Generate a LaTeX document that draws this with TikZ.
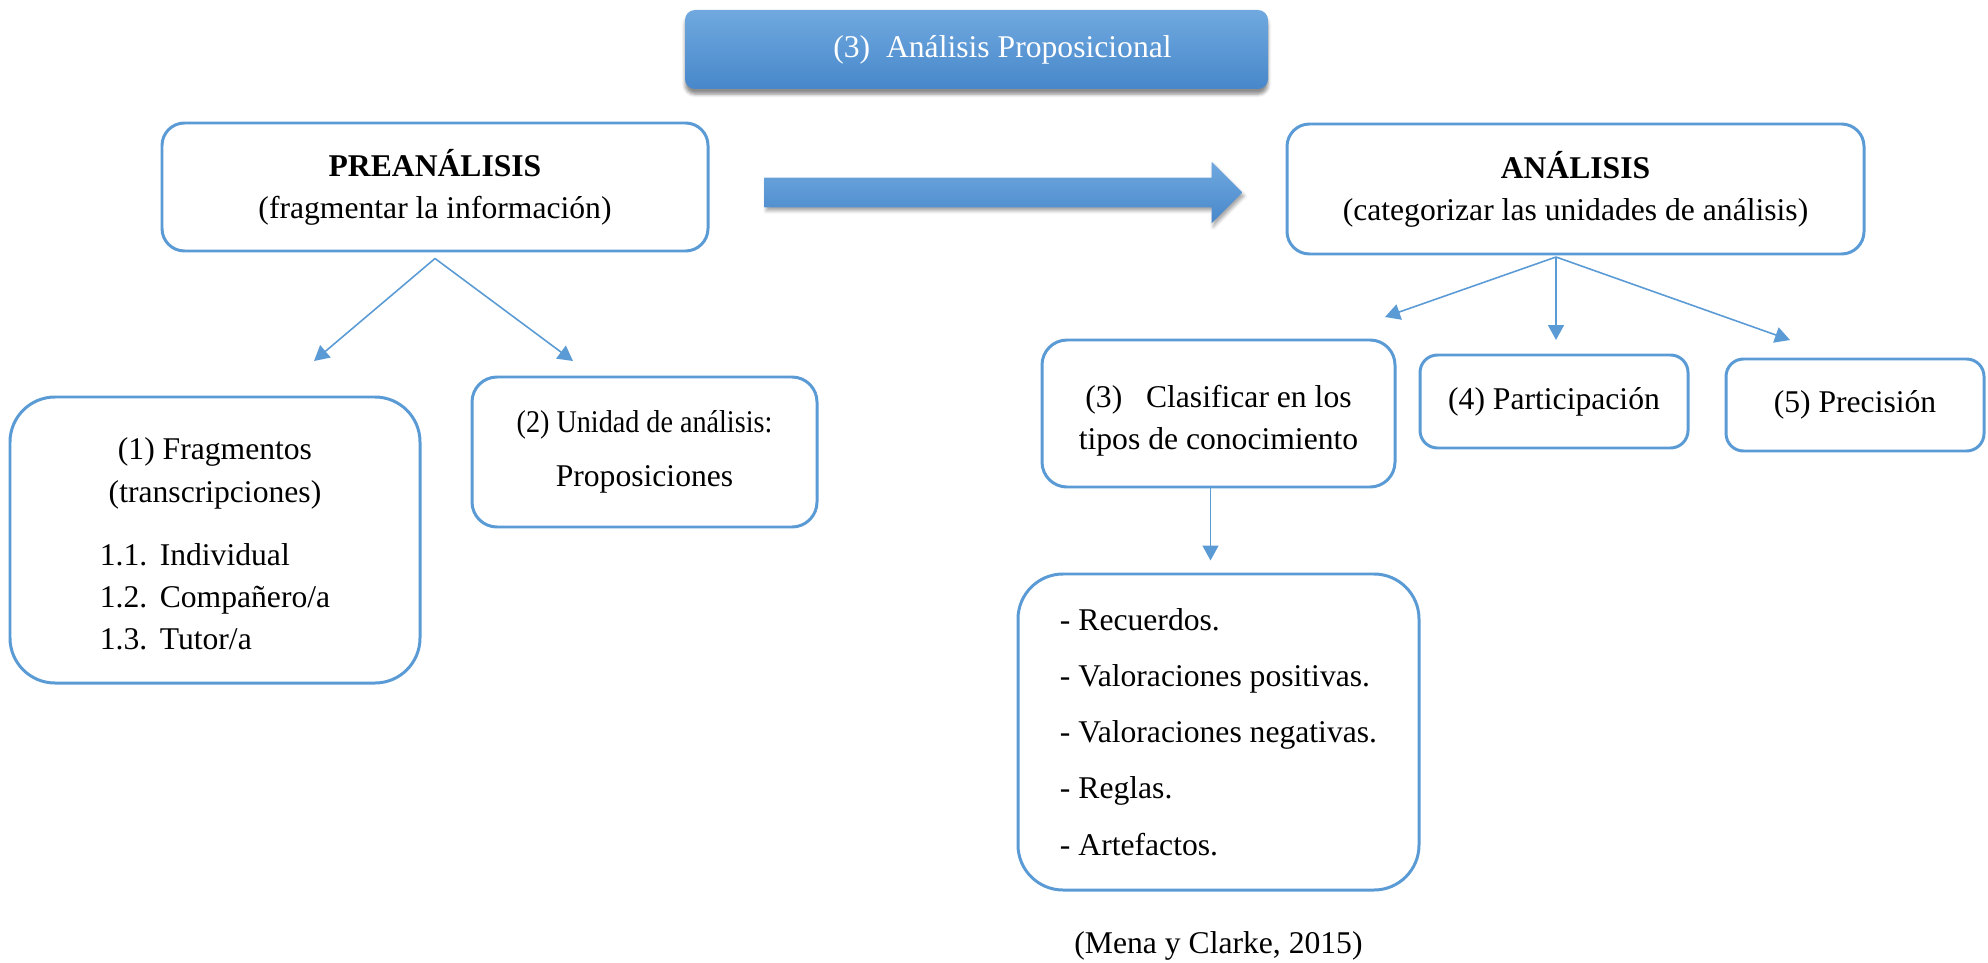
\documentclass[tikz,border=0pt]{standalone}
\usepackage{fontspec}
\setmainfont{Liberation Serif}
\usepackage{tikz}
\usetikzlibrary{arrows.meta,positioning,shapes.arrows,shadows.blur}
\definecolor{azulBorde}{HTML}{5B9BD5}
\definecolor{azulClaro}{HTML}{70A9DF}
\definecolor{azulOscuro}{HTML}{4787CA}
\tikzset{
  caja/.style={draw=azulBorde, line width=1.7pt, rounded corners=#1, align=center, fill=white, inner sep=4pt},
  caja/.default=0.45cm,
  titulo/.style={rounded corners=0.2cm, top color=azulClaro, bottom color=azulOscuro, text=white, minimum width=11.66cm, minimum height=1.58cm, blur shadow={shadow xshift=0pt, shadow yshift=-3pt, shadow opacity=45}},
  flechagrande/.style={single arrow, single arrow head extend=0.32cm, inner xsep=0pt, inner ysep=0.29cm, minimum height=9.56cm, top color=azulClaro, bottom color=azulOscuro, blur shadow={shadow xshift=1pt, shadow yshift=-2pt, shadow opacity=35}},
  flecha/.style={draw=azulBorde, line width=0.9pt, -{Triangle[length=3mm, width=3.2mm]}},
}
\begin{document}
\begin{tikzpicture}[node distance=4mm, font=\fontsize{18}{24}\selectfont]
\useasboundingbox (0,0) rectangle (39.76,-19.26);

\node[titulo] (tit) at (19.53,-0.99) {\hspace*{1.04cm}(3)~~Análisis Proposicional};

% las dos fases
\node[caja, minimum width=10.92cm, minimum height=2.56cm] (pre) at (8.7,-3.74) {\textbf{PREANÁLISIS}\\(fragmentar la información)};
\node[caja, minimum width=11.54cm, minimum height=2.6cm] (ana) at (31.51,-3.78) {\textbf{ANÁLISIS}\\(categorizar las unidades de análisis)};
\node[flechagrande] (paso) at (19.92,-3.85) {};

% preanalisis
\node[caja=0.9cm, minimum width=8.2cm, minimum height=5.72cm] (frag) at (4.3,-10.8) {\rule{0pt}{24pt}(1) Fragmentos\\(transcripciones)\\[12pt]\begin{tabular}[t]{@{}l@{\hspace{0.25cm}}l@{}}1.1.&Individual\\1.2.&Compañero/a\\1.3.&Tutor/a\end{tabular}};
\node[caja=0.5cm, minimum width=6.9cm, minimum height=3.0cm] (unid) at (12.89,-9.04) {\scalebox{0.89}[1]{(2) Unidad de análisis:}\\[7pt]Proposiciones};

% analisis
\node[caja=0.5cm, minimum width=7.06cm, minimum height=2.94cm] (clas) at (24.37,-8.27) {\rule{0pt}{21pt}(3)~~~Clasificar en los\\tipos de conocimiento};
\node[caja=0.35cm, minimum width=5.36cm, minimum height=1.86cm] (part) at (31.08,-8.03) {(4) Participación};
\node[caja=0.35cm, minimum width=5.16cm, minimum height=1.84cm] (prec) at (37.1,-8.1) {(5) Precisión};
\node[caja=0.9cm, minimum width=8.02cm, minimum height=6.32cm, align=left] (tipos) at (24.37,-14.64) {- Recuerdos.\\[8pt]- Valoraciones positivas.\\[8pt]- Valoraciones negativas.\\[8pt]- Reglas.\\[8pt]- Artefactos.};
\node[below=6.8mm of tipos] (ref) {(Mena y Clarke, 2015)};

% conectores
\coordinate[below=1.2mm of pre] (preb);
\coordinate (fragt) at (6.28,-7.22);
\coordinate (unidt) at (11.46,-7.22);
\draw[flecha] (preb) -- (fragt);
\draw[flecha] (preb) -- (unidt);

\coordinate (anab) at (31.12,-5.14);
\coordinate (clast) at (27.7,-6.34);
\coordinate (partt) at (31.12,-6.8);
\coordinate (prect) at (35.8,-6.8);
\draw[flecha] (anab) -- (clast);
\draw[flecha] (anab) -- (partt);
\draw[flecha] (anab) -- (prect);

\coordinate[above=2.4mm of tipos, xshift=-1.6mm] (tipost);
\draw[flecha] (clas.south -| tipost) -- (tipost);
\end{tikzpicture}
\end{document}
